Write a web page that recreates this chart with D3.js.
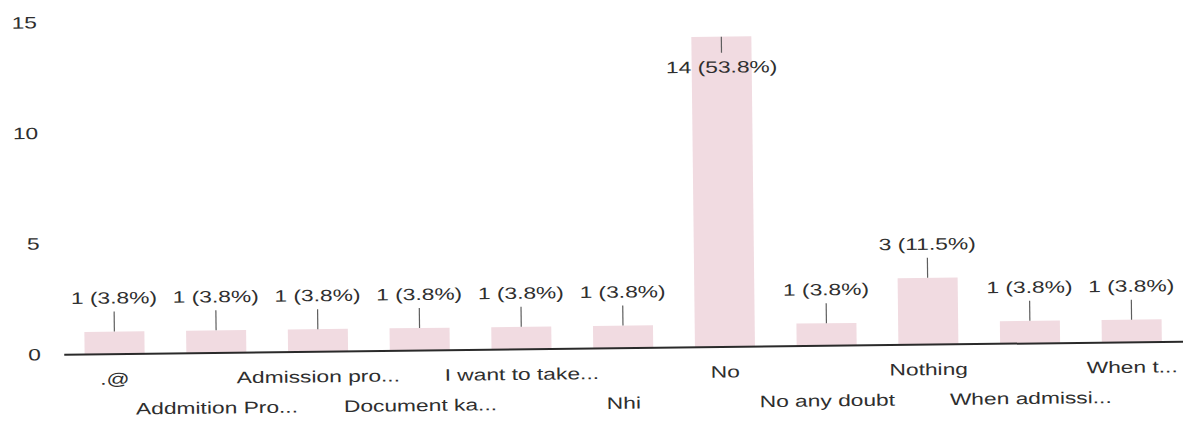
<!DOCTYPE html>
<html>
<head>
<meta charset="utf-8">
<script src="https://cdn.jsdelivr.net/npm/d3@7"></script>
<style>
  body { margin: 0; background: #fff; }
  text { font-family: "Liberation Sans", Arial, sans-serif; fill: #2e2e2e; }
</style>
</head>
<body>
<div id="chart"></div>
<script>

//********************* DATA ************************************

var categories = [".@", "Addmition Pro...", "Admission pro...", "Document ka...",
                  "I want to take...", "Nhi", "No", "No any doubt", "Nothing",
                  "When admissi...", "When t..."];
var counts   = [1, 1, 1, 1, 1, 1, 14, 1, 3, 1, 1];
var percents = [3.8, 3.8, 3.8, 3.8, 3.8, 3.8, 53.8, 3.8, 11.5, 3.8, 3.8];
var yTicks   = [0, 5, 10, 15];


//********************* DIMENSIONS ************************************

var width = 1183, height = 421;
var stretch = 1.38;   // scan is wider than tall, text looks stretched
var fontSize = 16.5;
var textColor = "#2e2e2e";

var svg = d3.select("#chart").append("svg")
    .attr("width", width)
    .attr("height", height)
  .append("g")
    .attr("transform", "rotate(-0.67, 600, 200)");

var x = d3.scaleBand()
    .domain(categories)
    .range([62, 1181])
    .paddingInner(0.41)
    .paddingOuter(0.205);

var y = d3.scaleLinear()
    .domain([0, 15])
    .range([348, 16]);

var data = categories.map(function(c, i) {
  return {cat: c, count: counts[i], pct: percents[i]};
});


//********************* BARS ************************************

svg.selectAll(".bar")
    .data(data)
  .enter().append("rect")
    .attr("class", "bar")
    .attr("x", function(d) { return x(d.cat); })
    .attr("width", x.bandwidth())
    .attr("y", function(d) { return y(d.count); })
    .attr("height", function(d) { return y(0) - y(d.count); })
    .attr("fill", "#f1dbe1");


//********************* VALUE LABELS ************************************

var labels = svg.selectAll(".vlabel")
    .data(data)
  .enter().append("g")
    .attr("class", "vlabel")
    .attr("transform", function(d) {
      return "translate(" + (x(d.cat) + x.bandwidth() / 2) + "," + y(d.count) + ")";
    });

// tall bars get the label inside, below the top
labels.append("line")
    .attr("y1", function(d) { return d.count > 10 ? 0 : -20; })
    .attr("y2", function(d) { return d.count > 10 ? 16 : 0; })
    .attr("stroke", "#5e5e5e")
    .attr("stroke-width", 1.2);

labels.append("text")
    .attr("text-anchor", "middle")
    .attr("font-size", fontSize)
    .attr("transform", function(d) {
      return "translate(0," + (d.count > 10 ? 36 : -28) + ") scale(" + stretch + ",1)";
    })
    .text(function(d) { return d.count + " (" + d.pct + "%)"; });


//********************* AXES ************************************

var yAxis = svg.append("g")
    .attr("transform", "translate(39,0)")
    .call(d3.axisLeft(y).tickValues(yTicks).tickSize(0).tickPadding(0));

yAxis.select(".domain").remove();
yAxis.selectAll("text")
    .attr("font-size", fontSize)
    .attr("font-family", "Liberation Sans, Arial, sans-serif")
    .attr("fill", textColor)
    .attr("transform", "scale(" + stretch + ",1)");

var xAxis = svg.append("g")
    .attr("transform", "translate(0," + y(0) + ")")
    .call(d3.axisBottom(x).tickSize(0).tickSizeOuter(0));

xAxis.select(".domain")
    .attr("stroke", "#2a2a2a")
    .attr("stroke-width", 2);

xAxis.selectAll("text")
    .attr("font-size", fontSize)
    .attr("font-family", "Liberation Sans, Arial, sans-serif")
    .attr("fill", textColor)
    .attr("y", function(d, i) { return i % 2 ? 61 : 31; })
    .attr("dy", 0)
    .attr("transform", "scale(" + stretch + ",1)");

</script>
</body>
</html>
